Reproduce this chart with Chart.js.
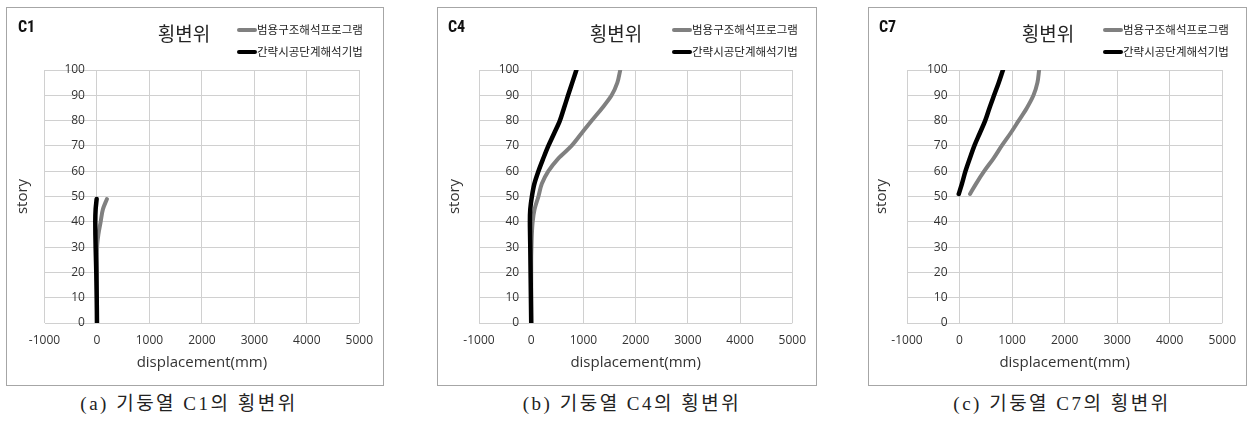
<!DOCTYPE html>
<html>
<head>
<meta charset="utf-8">
<script src="https://cdn.jsdelivr.net/npm/chart.js@4/dist/chart.umd.min.js"></script>
<style>
  html, body { margin: 0; padding: 0; background: #fff; }
  body { width: 1247px; height: 421px; position: relative; overflow: hidden; }
  .panel { position: absolute; top: 7px; border: 1px solid #a6a6a6; background: #fff; }
  .panel canvas { display: block; }
  .caption {
    position: absolute; top: 393px; line-height: 22px;
    font-family: "Liberation Serif", "Noto Sans CJK KR", serif;
    font-size: 19px; letter-spacing: 2.5px; white-space: nowrap;
    transform: translateX(-50%); color: #222;
  }
</style>
</head>
<body>
<div class="panel" style="left:6px"><canvas id="chartC1" width="376" height="377"></canvas></div>
<div class="panel" style="left:437px"><canvas id="chartC4" width="378" height="377"></canvas></div>
<div class="panel" style="left:868px"><canvas id="chartC7" width="377" height="377"></canvas></div>
<div class="caption" style="left:189px">(a) 기둥열 C1의 횡변위</div>
<div class="caption" style="left:632px">(b) 기둥열 C4의 횡변위</div>
<div class="caption" style="left:1062px">(c) 기둥열 C7의 횡변위</div>

<script>
// Series names and axis settings
const seriesNames = ['범용구조해석프로그램', '간략시공단계해석기법'];
const chartTitle = '횡변위';
const xTitle = 'displacement(mm)';
const yTitle = 'story';
const xMin = -1000, xMax = 5000, xStep = 1000;
const yMin = 0, yMax = 100, yStep = 10;

// Column C1: lateral displacement (mm) per story
const c1Story      = [0, 5, 10, 15, 20, 25, 30, 35, 40, 45, 49];
const c1General    = [0, 0, 0, 0, 0, 0, 2, 27, 70, 114, 190];
const c1Simplified = [0, -2, -5, -9, -13, -19, -25, -30, -32, -25, -6];

// Column C4
const c4Story      = [0, 5, 10, 15, 20, 25, 30, 35, 40, 45, 50, 55, 60, 65, 70, 75, 80, 85, 90, 95, 100];
const c4General    = [0, 0, 0, 0, 0, 0, 5, 12, 28, 65, 138, 203, 328, 517, 771, 965, 1160, 1360, 1540, 1650, 1705];
const c4Simplified = [0, -3, -6, -9, -12, -15, -18, -22, -25, -18, 13, 60, 138, 230, 328, 440, 549, 628, 706, 786, 865];

// Column C7
const c7Story      = [51, 55, 60, 65, 70, 75, 80, 85, 90, 95, 100];
const c7General    = [200, 313, 469, 644, 801, 970, 1126, 1281, 1407, 1482, 1514];
const c7Simplified = [-15, 45, 113, 195, 281, 385, 488, 570, 657, 745, 826];

const seriesStyle = [
  { color: '#808080', width: 4, order: 1 },
  { color: '#000000', width: 4.5, order: 0 }
];

const tickFont = { family: '"Open Sans", "Noto Sans", sans-serif', size: 12 };
const titleFont = { family: '"Open Sans", "Noto Sans", sans-serif', size: 15 };
const gridColor = '#d0d0d0';
const textColor = '#333333';

// Column tag and two-row legend drawn in the header of each panel
const panelHeader = {
  id: 'panelHeader',
  afterDraw(chart, args, opts) {
    const ctx = chart.ctx;
    ctx.save();
    ctx.textBaseline = 'middle';
    ctx.textAlign = 'left';
    ctx.fillStyle = '#111';
    ctx.font = 'bold 16px "Liberation Sans Narrow", "Roboto Condensed", "Liberation Sans", sans-serif';
    ctx.fillText(opts.tag, opts.tagX, opts.tagY);
    ctx.font = '11.5px "Noto Sans CJK KR", sans-serif';
    chart.data.datasets.forEach((ds, i) => {
      const y = opts.legendY + i * opts.legendGap;
      ctx.strokeStyle = ds.borderColor;
      ctx.lineWidth = 4;
      ctx.lineCap = 'round';
      ctx.beginPath();
      ctx.moveTo(opts.legendX + 2, y);
      ctx.lineTo(opts.legendX + 18, y);
      ctx.stroke();
      ctx.fillStyle = '#222';
      ctx.fillText(ds.label, opts.legendX + 20, y);
    });
    ctx.restore();
  }
};

// The story axis crosses at displacement 0; keep its tick padding between labels and that line
const crossingAxisGap = {
  id: 'crossingAxisGap',
  beforeDraw(chart) {
    const scale = chart.scales.storyAxis;
    const items = scale.getLabelItems();
    if (items._gapApplied) return;
    const gap = scale.options.ticks.padding;
    items.forEach(item => { item.options.translation[0] -= gap; });
    items._gapApplied = true;
  }
};

function toPoints(story, disp) {
  return story.map((s, i) => ({ x: disp[i], y: s }));
}

function buildChart(cfg) {
  const series = [cfg.general, cfg.simplified];
  const datasets = series.map((disp, i) => ({
    label: seriesNames[i],
    data: toPoints(cfg.story, disp),
    borderColor: seriesStyle[i].color,
    backgroundColor: seriesStyle[i].color,
    borderWidth: seriesStyle[i].width,
    borderCapStyle: 'round',
    borderJoinStyle: 'round',
    order: seriesStyle[i].order,
    pointRadius: 0,
    pointHoverRadius: 0,
    fill: false,
    cubicInterpolationMode: 'monotone'
  }));

  return new Chart(document.getElementById(cfg.canvas), {
    type: 'line',
    data: { datasets },
    plugins: [panelHeader, crossingAxisGap],
    options: {
      indexAxis: 'y',
      responsive: false,
      animation: false,
      events: [],
      layout: { padding: { top: 0, left: 0, right: cfg.rightPad, bottom: 0 } },
      plugins: {
        legend: { display: false },
        tooltip: { enabled: false },
        title: {
          display: true,
          text: chartTitle,
          color: '#222',
          font: { family: '"Noto Sans CJK KR", sans-serif', size: 19, weight: 'normal', lineHeight: 1.2 },
          padding: { top: 14.6, bottom: 24.6 }
        },
        panelHeader: {
          tag: cfg.tag, tagX: cfg.tagX, tagY: 20,
          legendX: cfg.legendX, legendY: 22, legendGap: 22
        }
      },
      scales: {
        x: {
          type: 'linear', axis: 'x', position: 'bottom', min: xMin, max: xMax,
          ticks: { stepSize: xStep, padding: 10, font: tickFont, color: textColor,
                   callback: v => String(v) },
          grid: { color: gridColor, drawTicks: false },
          border: { display: false },
          title: { display: true, text: xTitle, font: titleFont, color: textColor,
                   padding: { top: 0, bottom: 13.5 } },
          afterFit: s => { s.height = 62; }
        },
        y: {
          type: 'linear', axis: 'y', position: 'left', min: yMin, max: yMax,
          ticks: { stepSize: yStep, display: false },
          grid: { color: gridColor, drawTicks: false },
          border: { display: false },
          title: { display: true, text: yTitle, font: titleFont, color: textColor,
                   padding: { top: cfg.storyPad, bottom: 0 } },
          afterFit: s => { s.width = cfg.leftWidth; }
        },
        storyAxis: {
          type: 'linear', axis: 'y', position: { x: 0 }, min: yMin, max: yMax,
          ticks: { stepSize: yStep, padding: 12, font: tickFont, color: textColor,
                   callback: v => String(v) },
          grid: { display: false, drawTicks: false },
          border: { display: false }
        }
      }
    }
  });
}

buildChart({ canvas: 'chartC1', tag: 'C1', story: c1Story, general: c1General, simplified: c1Simplified,
             leftWidth: 37.5, rightPad: 22, storyPad: 7, tagX: 11, legendX: 230 });
buildChart({ canvas: 'chartC4', tag: 'C4', story: c4Story, general: c4General, simplified: c4Simplified,
             leftWidth: 41, rightPad: 22, storyPad: 8, tagX: 10, legendX: 234 });
buildChart({ canvas: 'chartC7', tag: 'C7', story: c7Story, general: c7General, simplified: c7Simplified,
             leftWidth: 38, rightPad: 19, storyPad: 4, tagX: 10, legendX: 234 });
</script>
</body>
</html>
